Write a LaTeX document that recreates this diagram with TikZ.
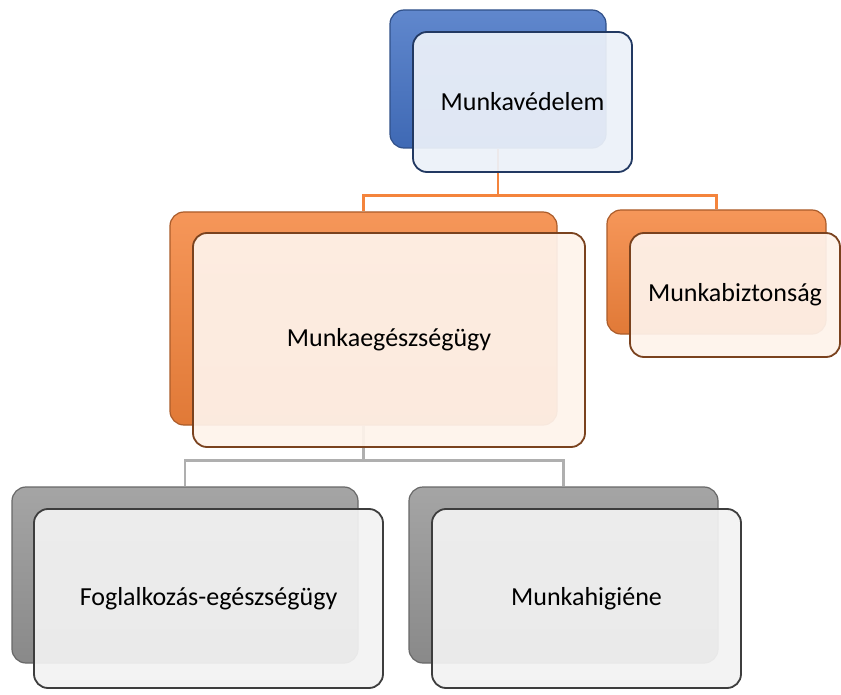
\documentclass[tikz,border=0pt]{standalone}
\usepackage{fontspec}
\setmainfont{Carlito}
\usepackage{tikz}
\usetikzlibrary{backgrounds}

\definecolor{mvblue}{HTML}{4472C4}
\definecolor{mvorange}{HTML}{F4843C}
\definecolor{mvgray}{HTML}{959595}
\definecolor{mvlight}{HTML}{7A7A7A}

\tikzset{
  backbox/.style={rounded corners=14pt, inner sep=0pt, line width=1.2pt,
    draw=#1!70!black, top color=#1!85!white, bottom color=#1!92!black},
  frontbox/.style={rounded corners=14pt, inner sep=0pt, line width=1.8pt,
    draw=#1!50!black, fill=#1!10!white, fill opacity=0.93, text opacity=1,
    font=\fontsize{26}{30}\selectfont},
  link/.style={line width=2.4pt, draw=#1}
}

\begin{document}
\begin{tikzpicture}[x=1pt,y=-1pt]
  \useasboundingbox (0,0) rectangle (841,695);

  % back boxes
  \node (mvb)  [backbox=mvblue,   minimum width=216pt, minimum height=138pt] at (498,79) {};
  \node (meb)  [backbox=mvorange, minimum width=387pt, minimum height=213pt] at (363.5,318.5) {};
  \node (mbb)  [backbox=mvorange, minimum width=219pt, minimum height=124pt] at (716.5,272) {};
  \node (feb)  [backbox=mvgray,   minimum width=346pt, minimum height=176pt] at (185,575) {};
  \node (mhb)  [backbox=mvgray,   minimum width=309pt, minimum height=176pt] at (563.5,575) {};

  % front boxes with the texts
  \node (mv) [frontbox=mvblue,   minimum width=219pt, minimum height=140pt] at (522.5,102) {Munkavédelem};
  \node (me) [frontbox=mvorange, minimum width=392pt, minimum height=214pt] at (389,340) {Munkaegészségügy};
  \node (mb) [frontbox=mvorange, minimum width=210pt, minimum height=124pt] at (735,295) {Munkabiztonság};
  \node (fe) [frontbox=mvlight,  minimum width=349pt, minimum height=179pt] at (208.5,598.5) {Foglalkozás-egészségügy};
  \node (mh) [frontbox=mvlight,  minimum width=309pt, minimum height=179pt] at (586.5,598.5) {Munkahigiéne};

  % connectors
  \begin{pgfonlayer}{background}
    \draw[link=mvorange] (mvb.south) -- ++(0,47) -| (meb.north);
    \draw[link=mvorange] (mvb.south) -- ++(0,47) -| (mbb.north);
    \draw[link=mvgray!75] (meb.south) -- ++(0,35) -| (feb.north);
    \draw[link=mvgray!75] (meb.south) -- ++(0,35) -| (mhb.north);
  \end{pgfonlayer}
\end{tikzpicture}
\end{document}
